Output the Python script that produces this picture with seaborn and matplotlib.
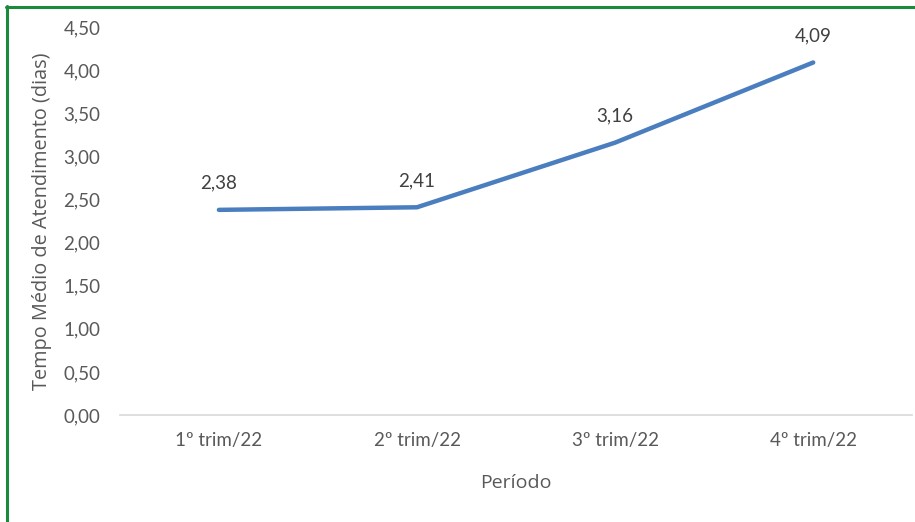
import seaborn as sns
import matplotlib.pyplot as plt
import pandas as pd
from matplotlib.lines import Line2D
from matplotlib.ticker import FuncFormatter

periodos = ["1º trim/22", "2º trim/22", "3º trim/22", "4º trim/22"]
tempo_medio = [2.38, 2.41, 3.16, 4.09]

df = pd.DataFrame({"periodo": periodos, "tempo": tempo_medio})

sns.set_style("white")
plt.rcParams["font.family"] = ["Lato", "DejaVu Sans"]
cinza = "#595959"

fig = plt.figure(figsize=(9.15, 5.22), dpi=100)
ax = fig.add_axes([0.131, 0.205, 0.866, 0.743])

sns.lineplot(data=df, x="periodo", y="tempo", ax=ax, color="#4A7EBF",
             linewidth=3.2, sort=False)

for i, v in enumerate(tempo_medio):
    ax.annotate(f"{v:.2f}".replace(".", ","), (i, v), xytext=(0, 13),
                textcoords="offset points", ha="center", va="bottom",
                fontsize=13.5, color="#404040")

ax.set_xlim(-0.5, 3.5)
ax.set_ylim(0, 4.5)
ax.set_yticks([i * 0.5 for i in range(10)])
ax.yaxis.set_major_formatter(FuncFormatter(lambda y, p: f"{y:.2f}".replace(".", ",")))
ax.tick_params(axis="both", colors=cinza, labelsize=13.5, length=0)
ax.tick_params(axis="x", pad=12)
ax.tick_params(axis="y", pad=14)

ax.set_xlabel("Período", color=cinza, fontsize=14, labelpad=18,
              family=["Open Sans", "DejaVu Sans"])
ax.set_ylabel("Tempo Médio de Atendimento (dias)", color=cinza, fontsize=14.3,
              labelpad=8, family=["Open Sans", "DejaVu Sans"])

for s in ["top", "right", "left"]:
    ax.spines[s].set_visible(False)
ax.spines["bottom"].set_color("#D9D9D9")
ax.spines["bottom"].set_linewidth(1.2)

# moldura verde (topo e esquerda)
verde = "#1B8A3A"
fig.add_artist(Line2D([6 / 915, 1], [1 - 7 / 522, 1 - 7 / 522], color=verde, linewidth=2.2))
fig.add_artist(Line2D([7 / 915, 7 / 915], [0, 1 - 6 / 522], color=verde, linewidth=2.2))

fig.savefig("out.png", dpi=100)
